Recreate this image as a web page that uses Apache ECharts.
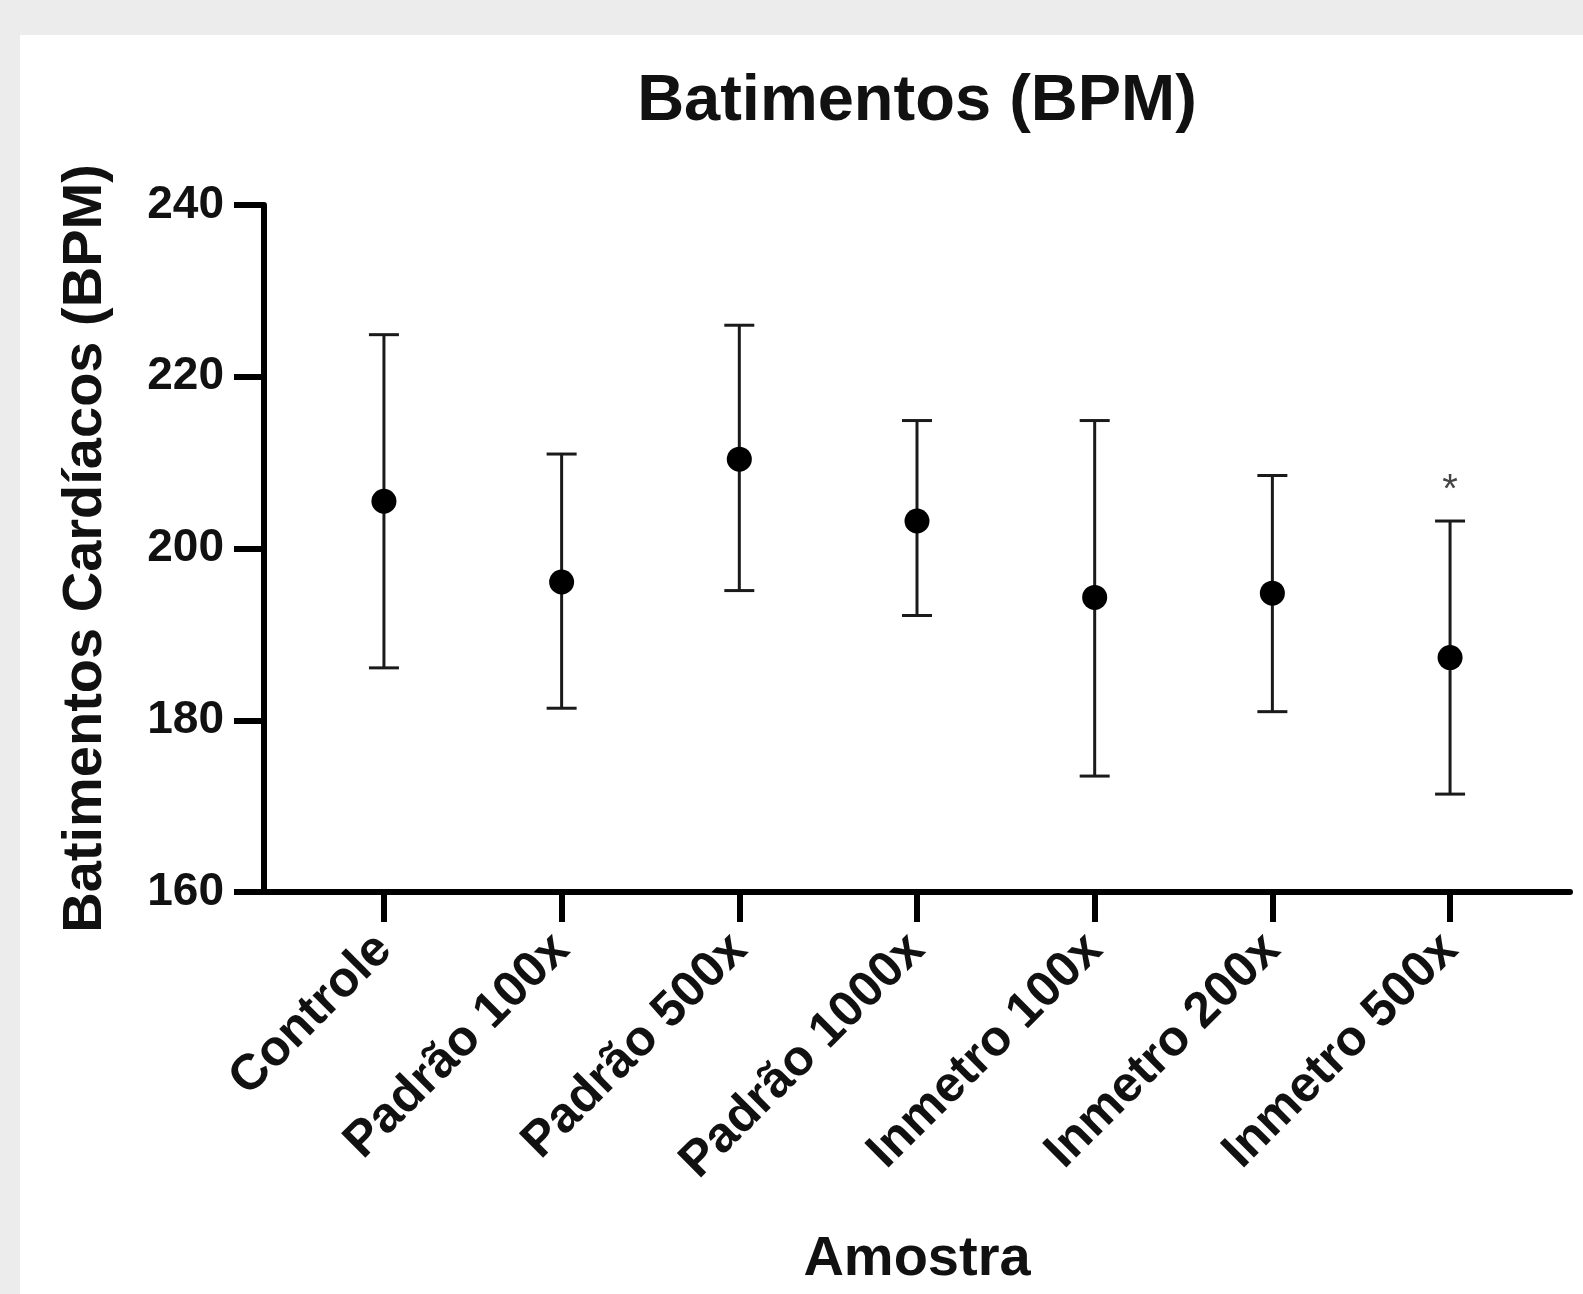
<!DOCTYPE html>
<html lang="pt">
<head>
    <meta charset="UTF-8">
    <title>Batimentos (BPM)</title>
    <script src="https://cdn.jsdelivr.net/npm/echarts@6/dist/echarts.min.js"></script>
    <style>
        html, body { margin: 0; padding: 0; background: #ececec; }
        #chart { width: 1583px; height: 1294px; }
    </style>
</head>
<body>
    <div id="chart"></div>
    <script>
        // data
        var amostras = ['Controle', 'Padrão 100x', 'Padrão 500x', 'Padrão 1000x', 'Inmetro 100x', 'Inmetro 200x', 'Inmetro 500x'];
        var media = [205.5, 196.1, 210.4, 203.2, 194.3, 194.8, 187.3];
        var limiteInferior = [186.1, 181.4, 195.1, 192.2, 173.5, 181.0, 171.4];
        var limiteSuperior = [224.9, 211.0, 226.0, 214.9, 214.9, 208.5, 203.2];
        var significancia = ['', '', '', '', '', '', '*'];
        var yTicks = [160, 180, 200, 220, 240];

        var font = '"Liberation Sans", Arial, sans-serif';
        var chart = echarts.init(document.getElementById('chart'));

        var idx = amostras.map(function (_, i) { return i; });
        var pontos = idx.map(function (i) { return [i, media[i]]; });
        var barras = idx.map(function (i) { return [i, limiteInferior[i], limiteSuperior[i], significancia[i]]; });

        var option = {
            animation: false,
            backgroundColor: '#ececec',
            graphic: [
                {
                    type: 'rect', z: -10, silent: true,
                    shape: { x: 20, y: 35, width: 1563, height: 1259 },
                    style: { fill: '#ffffff' }
                },
                {
                    type: 'text', x: 917, y: 70,
                    style: {
                        text: 'Batimentos (BPM)',
                        font: 'bold 65px ' + font, fill: '#111', align: 'center'
                    }
                }
            ],
            grid: { left: 264, right: 13, top: 205, bottom: 402 },
            xAxis: {
                type: 'value',
                min: -0.675,
                max: 6.675,
                splitLine: { show: false },
                axisLine: { lineStyle: { color: '#000', width: 6 } },
                axisTick: { customValues: idx, length: 30, lineStyle: { color: '#000', width: 6 } },
                axisLabel: {
                    customValues: idx,
                    rotate: 45,
                    margin: 50,
                    color: '#111',
                    fontFamily: font,
                    fontWeight: 'bold',
                    fontSize: 50,
                    formatter: function (v) { return amostras[Math.round(v)]; }
                },
                name: 'Amostra',
                nameLocation: 'middle',
                nameGap: 340,
                nameTextStyle: { fontFamily: font, fontWeight: 'bold', fontSize: 56, color: '#111' }
            },
            yAxis: {
                type: 'value',
                min: yTicks[0],
                max: yTicks[yTicks.length - 1],
                interval: 20,
                splitLine: { show: false },
                axisLine: { show: true, onZero: false, lineStyle: { color: '#000', width: 6 } },
                axisTick: { show: true, length: 30, lineStyle: { color: '#000', width: 6 } },
                axisLabel: {
                    margin: 40,
                    color: '#111',
                    fontFamily: font,
                    fontWeight: 'bold',
                    fontSize: 46
                },
                name: 'Batimentos Cardíacos (BPM)',
                nameLocation: 'middle',
                nameGap: 150,
                nameTextStyle: { fontFamily: font, fontWeight: 'bold', fontSize: 56, color: '#111' }
            },
            series: [
                {
                    type: 'custom',
                    data: barras,
                    renderItem: function (params, api) {
                        var x = api.value(0);
                        var lo = api.coord([x, api.value(1)]);
                        var hi = api.coord([x, api.value(2)]);
                        var cap = 15;
                        var st = { stroke: '#1a1a1a', lineWidth: 3 };
                        var children = [
                            { type: 'line', shape: { x1: lo[0], y1: lo[1], x2: hi[0], y2: hi[1] }, style: st },
                            { type: 'line', shape: { x1: hi[0] - cap, y1: hi[1], x2: hi[0] + cap, y2: hi[1] }, style: st },
                            { type: 'line', shape: { x1: lo[0] - cap, y1: lo[1], x2: lo[0] + cap, y2: lo[1] }, style: st }
                        ];
                        var sig = barras[params.dataIndex][3];
                        if (sig) {
                            children.push({
                                type: 'text',
                                style: {
                                    text: sig, x: hi[0], y: hi[1] - 30,
                                    font: '40px ' + font, fill: '#444',
                                    align: 'center', verticalAlign: 'middle'
                                }
                            });
                        }
                        return { type: 'group', children: children };
                    },
                    z: 2
                },
                {
                    type: 'scatter',
                    data: pontos,
                    symbol: 'circle',
                    symbolSize: 25,
                    itemStyle: { color: '#000', opacity: 1 },
                    z: 3
                }
            ]
        };

        chart.setOption(option);
    </script>
</body>
</html>
